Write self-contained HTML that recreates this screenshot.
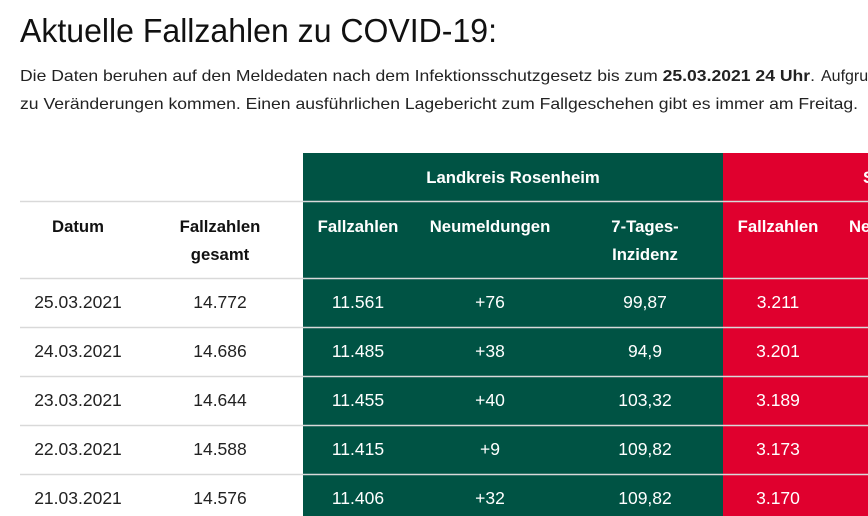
<!DOCTYPE html>
<html><head><meta charset="utf-8"><style>
html,body{margin:0;padding:0;background:#fff;width:868px;height:516px;overflow:hidden}
svg{display:block;font-family:"Liberation Sans",sans-serif}
</style></head><body>
<svg width="868" height="516" viewBox="0 0 868 516" xmlns="http://www.w3.org/2000/svg">
<text x="20" y="42" font-size="33" fill="#111" textLength="477" lengthAdjust="spacingAndGlyphs">Aktuelle Fallzahlen zu COVID-19:</text>
<text x="20" y="81" font-size="16" fill="#222" textLength="795" lengthAdjust="spacingAndGlyphs">Die Daten beruhen auf den Meldedaten nach dem Infektionsschutzgesetz bis zum <tspan font-weight="bold">25.03.2021 24 Uhr</tspan>.</text>
<text x="821" y="81" font-size="16" fill="#222">Aufgrund</text>
<text x="20" y="109" font-size="16" fill="#222" textLength="838" lengthAdjust="spacingAndGlyphs">zu Veränderungen kommen. Einen ausführlichen Lagebericht zum Fallgeschehen gibt es immer am Freitag.</text>

<rect x="303" y="153" width="420" height="363" fill="#005344"/>
<rect x="723" y="153" width="145" height="363" fill="#e0002e"/>

<g stroke="#d9d9d9" stroke-width="1.5">
<line x1="20" y1="201.5" x2="868" y2="201.5"/>
<line x1="20" y1="278.5" x2="868" y2="278.5"/>
<line x1="20" y1="327.5" x2="868" y2="327.5"/>
<line x1="20" y1="376.5" x2="868" y2="376.5"/>
<line x1="20" y1="425.5" x2="868" y2="425.5"/>
<line x1="20" y1="474.5" x2="868" y2="474.5"/>
</g>

<g font-size="16.7" font-weight="bold" text-anchor="middle">
<text x="513" y="183" fill="#fff">Landkreis Rosenheim</text>
<text x="78" y="232" fill="#111">Datum</text>
<text x="220" y="232" fill="#111">Fallzahlen</text>
<text x="220" y="260" fill="#111">gesamt</text>
<text x="358" y="232" fill="#fff">Fallzahlen</text>
<text x="490" y="232" fill="#fff">Neumeldungen</text>
<text x="645" y="232" fill="#fff">7-Tages-</text>
<text x="645" y="260" fill="#fff">Inzidenz</text>
<text x="778" y="232" fill="#fff">Fallzahlen</text>
</g>
<g font-size="16.7" font-weight="bold">
<text x="863" y="183" fill="#fff">Stadt</text>
<text x="849" y="232" fill="#fff">Neumeldungen</text>
</g>

<g font-size="17.5" text-anchor="middle">
<g fill="#222">
<text x="78" y="308">25.03.2021</text><text x="220" y="308">14.772</text>
<text x="78" y="357">24.03.2021</text><text x="220" y="357">14.686</text>
<text x="78" y="406">23.03.2021</text><text x="220" y="406">14.644</text>
<text x="78" y="455">22.03.2021</text><text x="220" y="455">14.588</text>
<text x="78" y="504">21.03.2021</text><text x="220" y="504">14.576</text>
</g>
<g fill="#fff">
<text x="358" y="308">11.561</text><text x="490" y="308">+76</text><text x="645" y="308">99,87</text><text x="778" y="308">3.211</text>
<text x="358" y="357">11.485</text><text x="490" y="357">+38</text><text x="645" y="357">94,9</text><text x="778" y="357">3.201</text>
<text x="358" y="406">11.455</text><text x="490" y="406">+40</text><text x="645" y="406">103,32</text><text x="778" y="406">3.189</text>
<text x="358" y="455">11.415</text><text x="490" y="455">+9</text><text x="645" y="455">109,82</text><text x="778" y="455">3.173</text>
<text x="358" y="504">11.406</text><text x="490" y="504">+32</text><text x="645" y="504">109,82</text><text x="778" y="504">3.170</text>
</g>
</g>
</svg>
</body></html>
